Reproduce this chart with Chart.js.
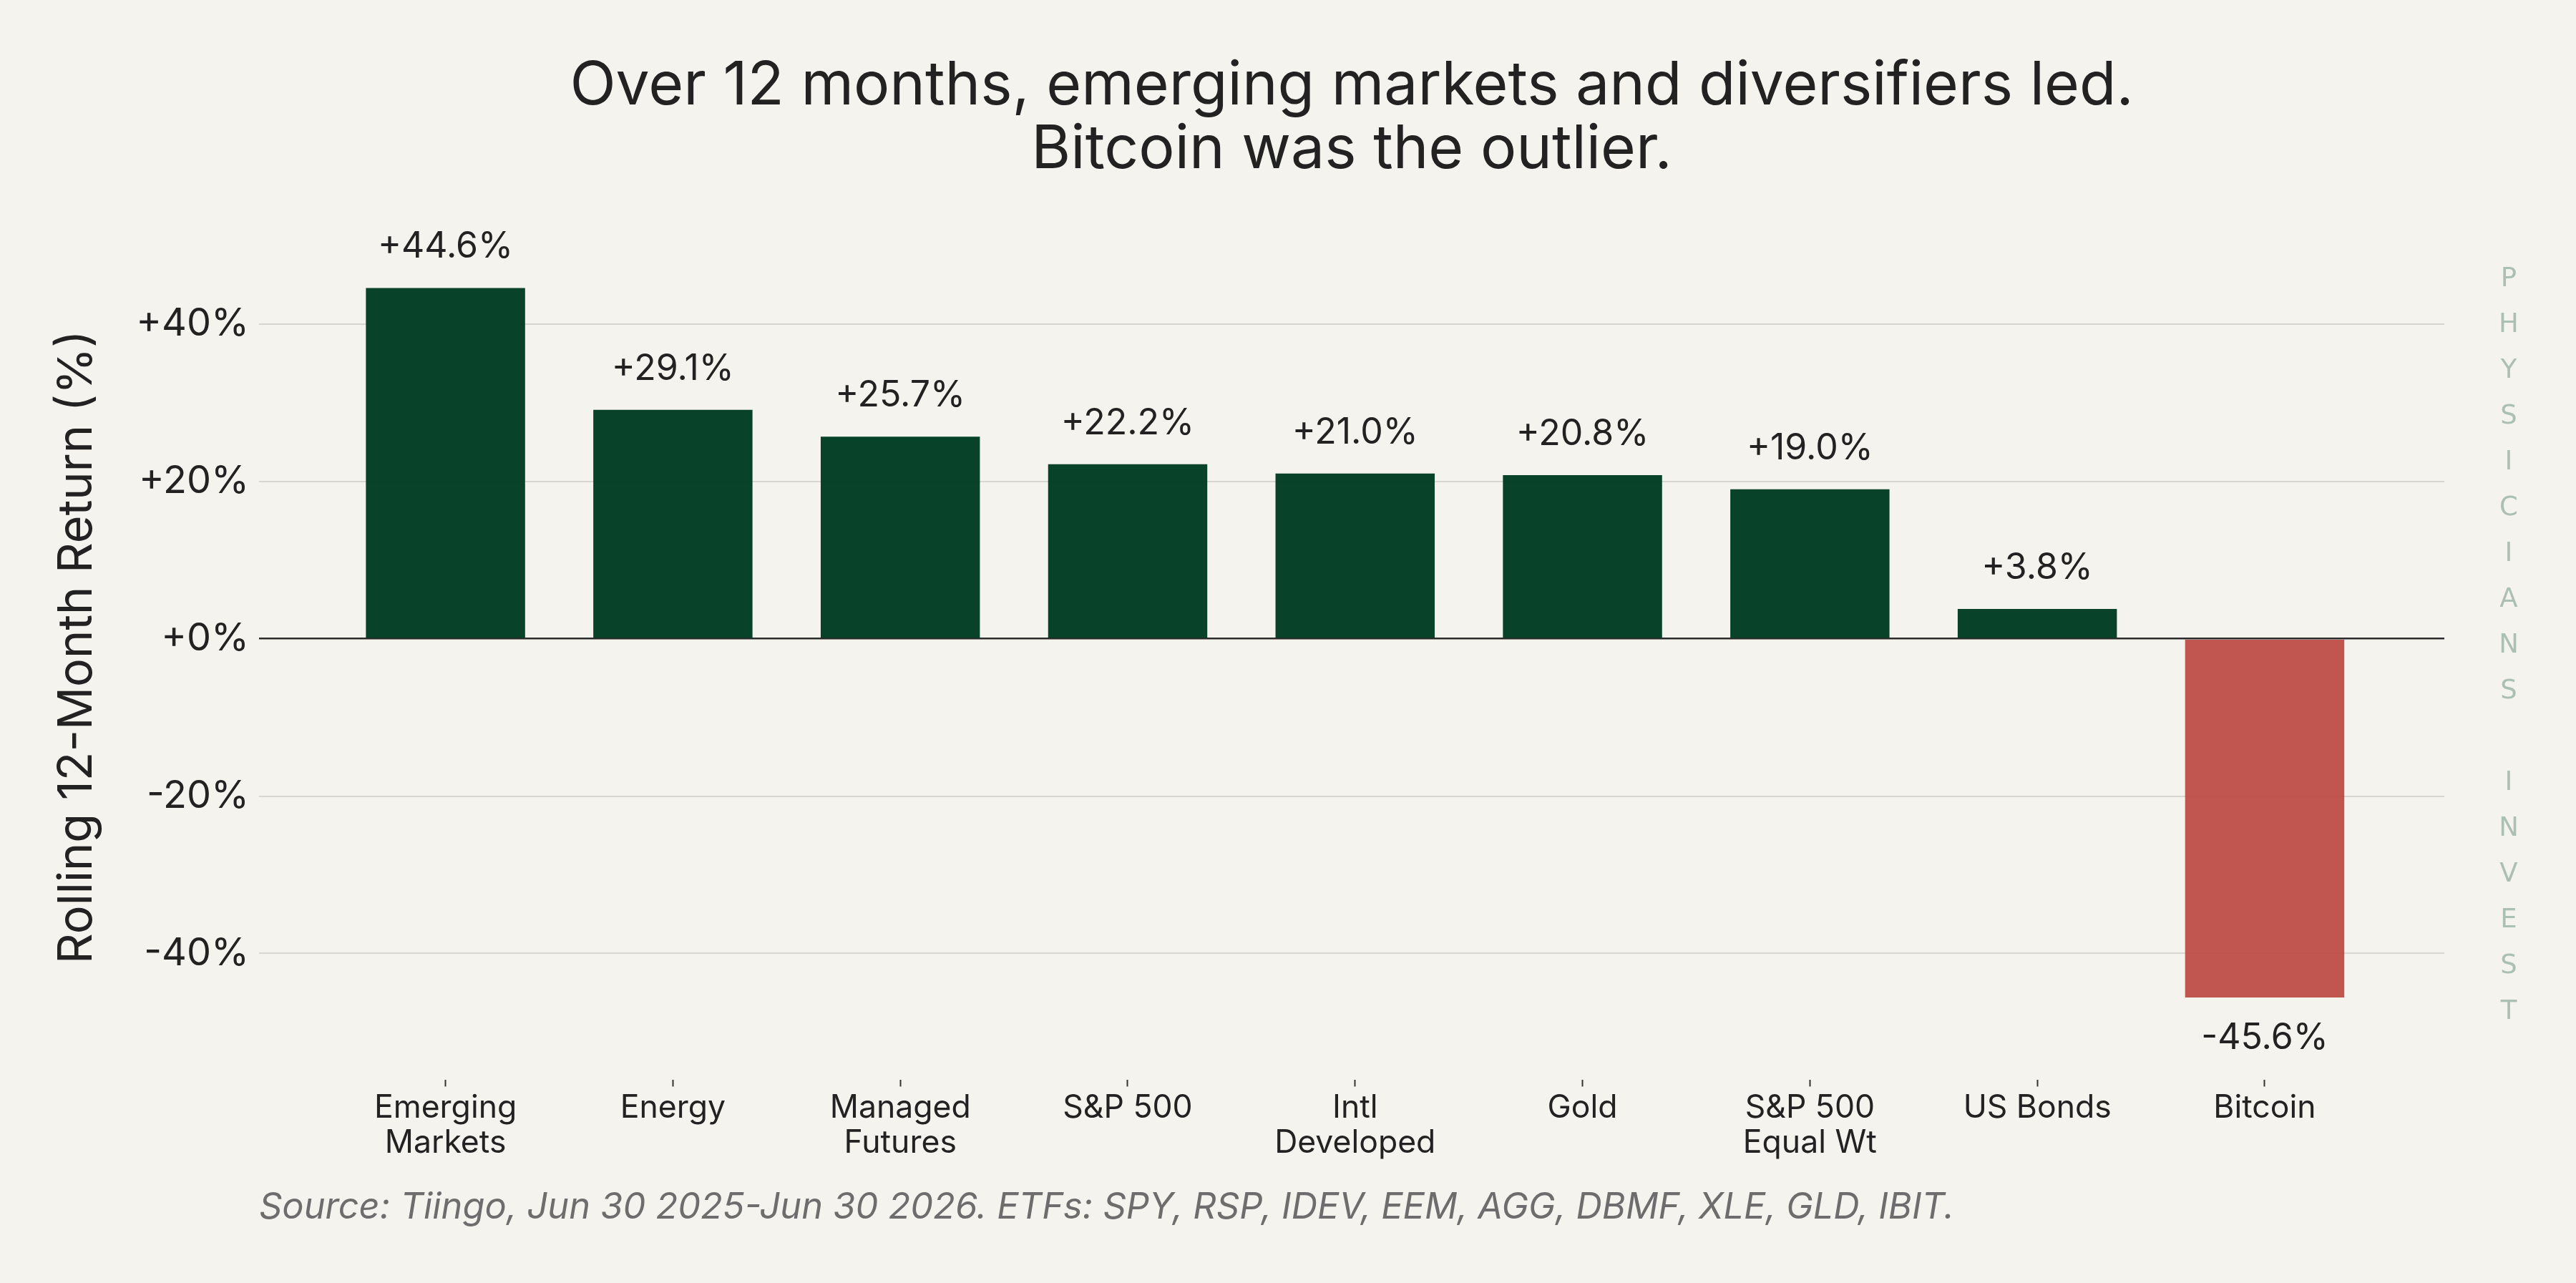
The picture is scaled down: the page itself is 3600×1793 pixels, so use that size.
<!DOCTYPE html>
<html>
<head>
<meta charset="utf-8">
<script src="https://cdn.jsdelivr.net/npm/chart.js@4.4.1/dist/chart.umd.min.js"></script>
<style>
  html, body { margin: 0; padding: 0; background: #f5f3ee; }
  #wrap { width: 3600px; height: 1793px; position: relative; }
</style>
</head>
<body>
<div id="wrap"><canvas id="returnsChart"></canvas></div>
<script>
// 12-month returns by asset class
const categories = ["Emerging\nMarkets", "Energy", "Managed\nFutures", "S&P 500", "Intl\nDeveloped", "Gold", "S&P 500\nEqual Wt", "US Bonds", "Bitcoin"];
const returns = [44.6, 29.1, 25.7, 22.2, 21.0, 20.8, 19.0, 3.8, -45.6];
const yTicks = [-40, -20, 0, 20, 40];

const GREEN = "rgba(0, 60, 34, 0.97)";
const RED = "rgba(190, 77, 72, 0.95)";
const INK = "#222222";
const watermark = "PHYSICIANS INVEST";

const fmtPct = (v, digits) => (v >= 0 ? "+" : "") + v.toFixed(digits) + "%";

// background fill
const bgPlugin = {
  id: "bg",
  beforeDraw(chart) {
    const ctx = chart.ctx;
    ctx.save();
    ctx.fillStyle = "#f5f3ee";
    ctx.fillRect(0, 0, chart.width, chart.height);
    ctx.restore();
  }
};

// value labels above / below each bar
const valueLabels = {
  id: "valueLabels",
  afterDatasetsDraw(chart) {
    const ctx = chart.ctx;
    const meta = chart.getDatasetMeta(0);
    ctx.save();
    ctx.font = "50px Inter";
    ctx.fillStyle = INK;
    ctx.textAlign = "center";
    ctx.textBaseline = "alphabetic";
    meta.data.forEach((bar, i) => {
      const v = returns[i];
      const y = v >= 0 ? bar.y - 42 : bar.y + 72;
      ctx.fillText(fmtPct(v, 1), bar.x, y);
    });
    ctx.restore();
  }
};

// stacked brand letters on the right
const brandMark = {
  id: "brandMark",
  afterDraw(chart) {
    const ctx = chart.ctx;
    ctx.save();
    ctx.font = "37px 'DejaVu Sans'";
    ctx.fillStyle = "#abc0b3";
    ctx.textAlign = "center";
    ctx.textBaseline = "middle";
    watermark.split("").forEach((ch, i) => {
      if (ch !== " ") ctx.fillText(ch, 3506, 390 + i * 64);
    });
    ctx.restore();
  }
};

new Chart(document.getElementById("returnsChart"), {
  type: "bar",
  data: {
    datasets: [{
      data: returns.map((v, i) => ({ x: i, y: v })),
      backgroundColor: returns.map(v => v >= 0 ? GREEN : RED),
      borderWidth: 0,
      barPercentage: 0.7,
      categoryPercentage: 1.0
    }]
  },
  options: {
    responsive: true,
    maintainAspectRatio: false,
    devicePixelRatio: 1,
    animation: false,
    layout: { padding: { left: 0, right: 184, top: 0, bottom: 75 } },
    plugins: {
      legend: { display: false },
      tooltip: { enabled: false },
      title: {
        display: true,
        fullSize: false,
        text: ["Over 12 months, emerging markets and diversifiers led.", "Bitcoin was the outlier."],
        color: INK,
        font: { family: "Inter", size: 84, weight: "normal", lineHeight: 1.06 },
        padding: { top: 76, bottom: 45 }
      },
      subtitle: {
        display: true,
        fullSize: false,
        position: "bottom",
        align: "start",
        text: "Source: Tiingo, Jun 30 2025-Jun 30 2026. ETFs: SPY, RSP, IDEV, EEM, AGG, DBMF, XLE, GLD, IBIT.",
        color: "#6d6d6d",
        font: { family: "Inter", size: 50.5, style: "italic", lineHeight: 1.2 },
        padding: { top: 0, bottom: 0 }
      }
    },
    scales: {
      x: {
        type: "linear",
        offset: false,
        min: -0.82,
        max: 8.79,
        border: { display: false },
        grid: { offset: false, drawOnChartArea: false, drawTicks: true, tickLength: 9, tickColor: "#333", tickWidth: 2 },
        afterBuildTicks: (scale) => { scale.ticks = categories.map((_, i) => ({ value: i })); },
        afterFit: (scale) => { scale.height = 148; },
        ticks: {
          autoSkip: false,
          maxRotation: 0,
          padding: 6,
          color: INK,
          font: { family: "Inter", size: 44.5, lineHeight: 1.1 },
          callback: (value) => categories[value] ? categories[value].split("\n") : ""
        }
      },
      y: {
        min: -56.1,
        max: 54,
        border: { display: false },
        grid: {
          drawTicks: false,
          color: (c) => c.tick && c.tick.value === 0 ? "#2b2b2b" : "#d8d6d0",
          lineWidth: (c) => c.tick && c.tick.value === 0 ? 2.5 : 2
        },
        afterBuildTicks: (scale) => { scale.ticks = yTicks.map(v => ({ value: v })); },
        afterFit: (scale) => { scale.width = 362; },
        ticks: {
          padding: 14,
          color: INK,
          font: { family: "Inter", size: 54 },
          callback: (v) => fmtPct(v, 0)
        },
        title: {
          display: true,
          text: "Rolling 12-Month Return (%)",
          color: INK,
          font: { family: "Inter", size: 66.5 },
          padding: { top: 68, bottom: 0 }
        }
      }
    }
  },
  plugins: [bgPlugin, valueLabels, brandMark]
});
</script>
</body>
</html>
